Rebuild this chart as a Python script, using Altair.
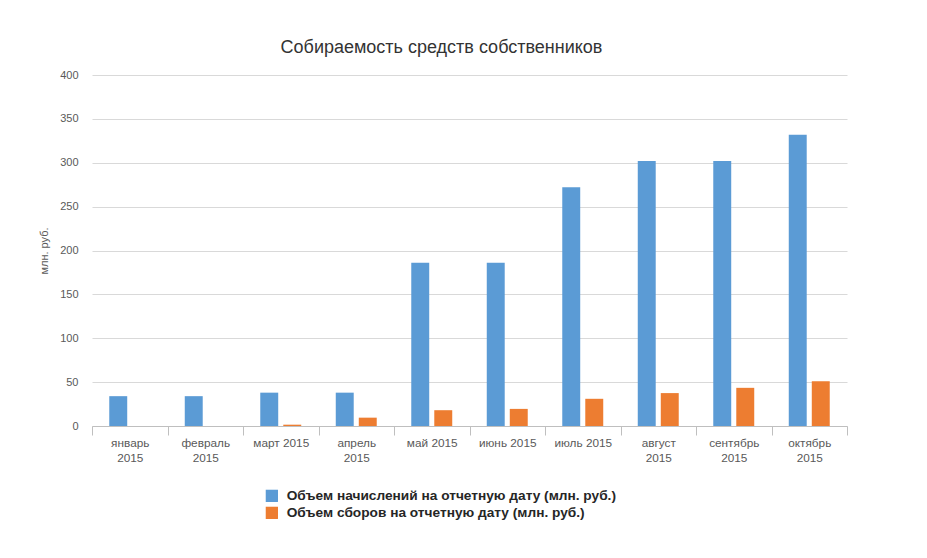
import altair as alt
import pandas as pd

months = ["январь 2015", "февраль 2015", "март 2015", "апрель 2015", "май 2015",
          "июнь 2015", "июль 2015", "август 2015", "сентябрь 2015", "октябрь 2015"]
series_names = ["Объем начислений на отчетную дату (млн. руб.)",
                "Объем сборов на отчетную дату (млн. руб.)"]
accrued = [34, 34, 38, 38, 186, 186, 272, 302, 302, 332]
collected = [0, 0, 1.5, 9.5, 18, 19.5, 31, 37.5, 43.5, 51]
colors = ["#5b9bd5", "#ed7d31"]

rows = []
for i, m in enumerate(months):
    rows.append({"month": m, "series": series_names[0], "value": accrued[i], "order": 0})
    rows.append({"month": m, "series": series_names[1], "value": collected[i], "order": 1})
df = pd.DataFrame(rows)

font = "Liberation Sans"

chart = alt.Chart(df).mark_bar().encode(
    x=alt.X("month:N", sort=months, title=None,
            scale=alt.Scale(paddingInner=0, paddingOuter=0),
            axis=alt.Axis(labelAngle=0, tickBand="extent", domainColor="#bfbfbf",
                          tickColor="#bfbfbf", tickSize=9, labelColor="#595959",
                          labelFont=font, labelFontSize=11.8, labelPadding=2,
                          labelLineHeight=15, labelBaseline="top",
                          labelExpr="length(datum.label) > 9 ? split(datum.label, ' ') : datum.label")),
    xOffset=alt.XOffset("series:N", sort=series_names,
                        scale=alt.Scale(paddingInner=0.22, paddingOuter=0.75)),
    y=alt.Y("value:Q", title="млн. руб.",
            scale=alt.Scale(domain=[0, 400]),
            axis=alt.Axis(values=[0, 50, 100, 150, 200, 250, 300, 350, 400],
                          domain=False, ticks=False, gridColor="#d9d9d9",
                          labelColor="#595959", labelFont=font, labelFontSize=11,
                          labelPadding=14, titleColor="#595959", titleFont=font,
                          titleFontSize=11, titleFontWeight="normal", titlePadding=10)),
    color=alt.Color("series:N", sort=series_names,
                    scale=alt.Scale(domain=series_names, range=colors),
                    legend=alt.Legend(title=None, orient="none", legendX=173, legendY=414,
                                      symbolType="square", symbolSize=150,
                                      symbolStrokeWidth=0, labelFont=font,
                                      labelFontSize=13.7, labelFontWeight="bold",
                                      labelColor="#262626", rowPadding=2,
                                      labelOffset=8, labelLimit=500)),
).properties(
    width=755,
    height=351,
    title=alt.Title("Собираемость средств собственников", font=font, fontSize=18,
                    fontWeight="normal", color="#333333", dx=-28, offset=12),
    padding={"left": 84, "top": 67, "right": 70, "bottom": 130},
    autosize=alt.AutoSizeParams(type="none"),
).configure_view(stroke=None)

chart.save("out.html", embed_options={"renderer": "svg", "actions": False})
